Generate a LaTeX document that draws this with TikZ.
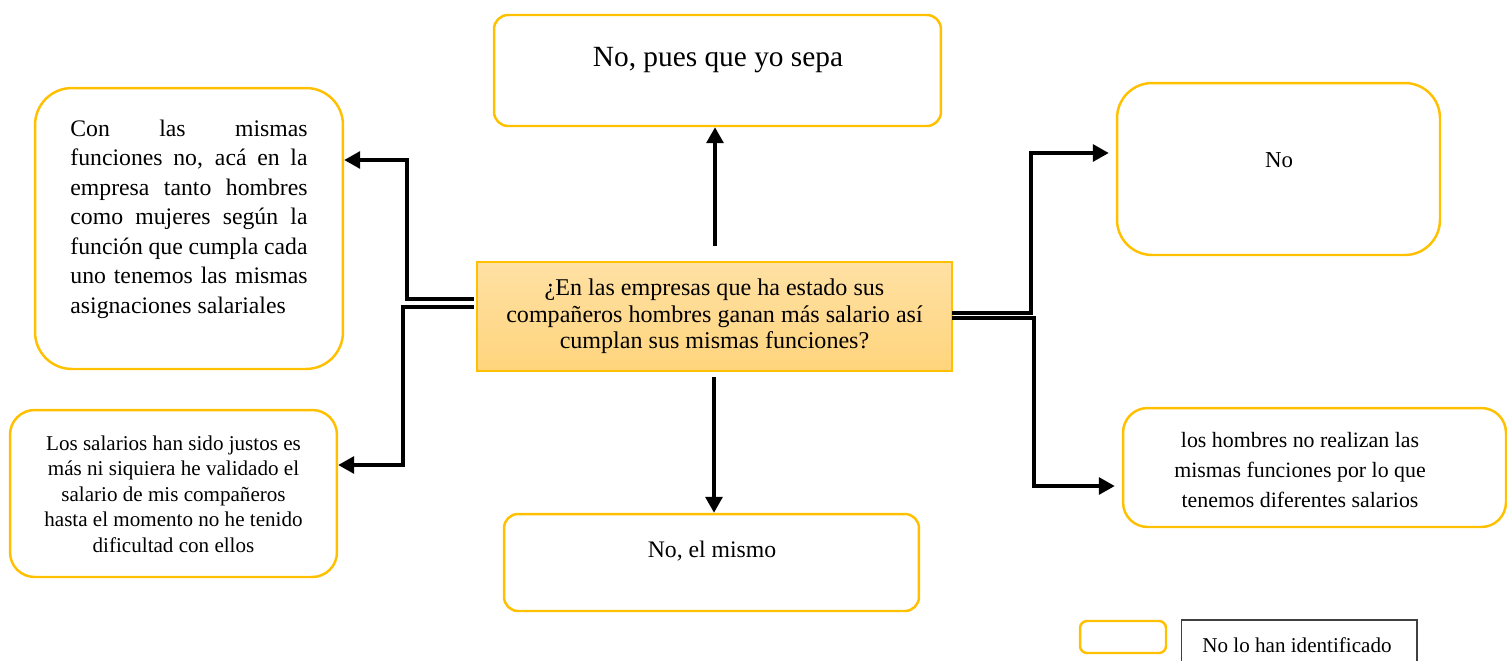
\documentclass[tikz,border=0pt]{standalone}
\usepackage{fontspec}
\setmainfont{Liberation Serif}
\usetikzlibrary{arrows.meta, positioning}
\definecolor{boxorange}{HTML}{FFC000}
\definecolor{qtop}{HTML}{FFE1A4}
\definecolor{qbot}{HTML}{FFD47C}
\newcommand{\spreadline}[1]{\makebox[135pt][s]{#1}}

\begin{document}
\begin{tikzpicture}[x=0.02cm, y=-0.02cm,
        answer/.style={draw=boxorange, line width=1.4pt, rounded corners=#1, inner sep=0pt},
        answer/.default=8pt,
        question/.style={draw=boxorange, line width=0.8pt, top color=qtop, bottom color=qbot,
            inner sep=0pt, align=center, font=\fontsize{13.7}{15}\selectfont},
        link/.style={line width=2pt},
        arrow/.style={link, -{Triangle[length=9pt, width=9.5pt]}},
        txt/.style={align=center, inner sep=0pt}]
            \useasboundingbox (0, 0) rectangle (1507, 660);

            \node[question, minimum width=9.5cm, minimum height=2.18cm] (q) at (714.5, 316.5)
                {¿En las empresas que ha estado sus\\compañeros hombres ganan más salario así\\cumplan sus mismas funciones?};

            \node[answer, minimum width=8.94cm, minimum height=2.22cm] (top) at (717.5, 70.5) {};
            \node[answer, minimum width=8.3cm, minimum height=1.94cm] (bot) at (711.5, 562.5) {};
            \node[answer=21pt, minimum width=6.16cm, minimum height=5.62cm] (lt) at (189, 228.5) {};
            \node[answer=14pt, minimum width=6.54cm, minimum height=3.34cm] (lb) at (173.5, 493.5) {};
            \node[answer=20pt, minimum width=6.46cm, minimum height=3.44cm] (rt) at (1278.5, 169) {};
            \node[answer=14pt, minimum width=7.66cm, minimum height=2.38cm] (rb) at (1314.5, 467.5) {};

            \node[txt, font=\fontsize{16.7}{19}\selectfont] (topT) at (718, 60) {No, pues que yo sepa};
            \node[txt, font=\fontsize{13.5}{16}\selectfont] (botT) at (712, 551) {No, el mismo};
            \node[txt, font=\fontsize{13}{15}\selectfont] (rtT) at (1279, 160) {No};
            \node[inner sep=0pt, align=left, font=\fontsize{13.5}{16.8}\selectfont] (ltT) at (189, 219)
                {\spreadline{Con las mismas}\\\spreadline{funciones no, acá en la}\\\spreadline{empresa tanto hombres}\\
                 \spreadline{como mujeres según la}\\\spreadline{función que cumpla cada}\\\spreadline{uno tenemos las mismas}\\
                 asignaciones salariales};
            \node[txt, font=\fontsize{12}{14.5}\selectfont] (lbT) at (173.5, 494)
                {Los salarios han sido justos es\\más ni siquiera he validado el\\salario de mis compañeros\\hasta el momento no he tenido\\dificultad con ellos};
            \node[txt, font=\fontsize{12.45}{17}\selectfont] (rbT) at (1300, 470)
                {los hombres no realizan las\\mismas funciones por lo que\\tenemos diferentes salarios};

            \node[answer=4pt, minimum width=1.72cm, minimum height=0.64cm] (keyBox) at (1123, 637) {};
            \node[draw=black!75, line width=0.6pt, minimum width=4.72cm, minimum height=1.2cm, inner sep=0pt] (keyLabel) at (1299, 650) {};
            \node[txt, font=\fontsize{12}{14}\selectfont] (keyText) at (1297, 645) {No lo han identificado};

            \coordinate (qUp) at (715, 246);
            \coordinate (qDown) at (714, 377);
            \coordinate (qL1) at (474, 299);
            \coordinate (qL2) at (474, 307);
            \coordinate (qR1) at (952, 313);
            \coordinate (qR2) at (952, 318);

            \draw [arrow] (qUp) -- (qUp |- top.south);
            \draw [arrow] (qDown) -- (qDown |- bot.north);
            \draw [arrow] (qL1) --++ (-67, 0) |- (lt.east |- 0, 160);
            \draw [arrow] (qL2) --++ (-71, 0) |- (lb.east |- 0, 465);
            \draw [arrow, shorten >=4pt] (qR1) --++ (79, 0) |- (rt.west |- 0, 153);
            \draw [arrow, shorten >=4pt] (qR2) --++ (82, 0) |- (rb.west |- 0, 486);
        \end{tikzpicture}
\end{document}
